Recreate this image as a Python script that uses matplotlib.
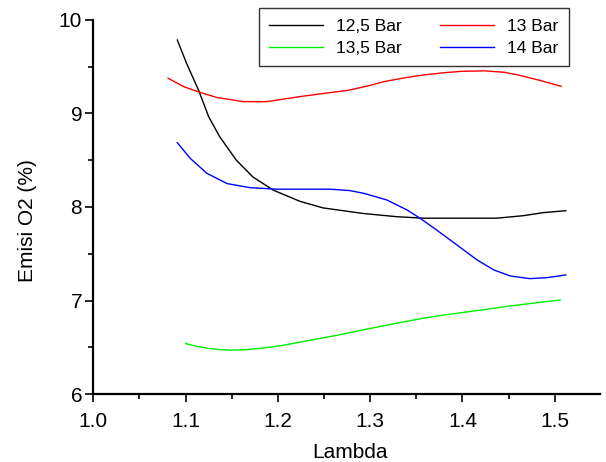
import matplotlib
matplotlib.use("Agg")
import matplotlib.pyplot as plt
from matplotlib.ticker import MultipleLocator

plt.rcParams['font.family'] = ['Liberation Sans', 'DejaVu Sans']

# nilai
lam_125 = [1.091, 1.101, 1.114, 1.125, 1.137, 1.155, 1.173, 1.195, 1.224, 1.249, 1.278,
           1.293, 1.329, 1.358, 1.401, 1.437, 1.466, 1.488, 1.512]
o2_125 = [9.785, 9.536, 9.25, 8.965, 8.75, 8.50, 8.32, 8.18, 8.06, 7.99, 7.95,
          7.93, 7.896, 7.88, 7.88, 7.88, 7.907, 7.94, 7.96]

lam_13 = [1.081, 1.098, 1.114, 1.134, 1.163, 1.188, 1.224, 1.255, 1.278, 1.300,
          1.315, 1.337, 1.357, 1.380, 1.399, 1.424, 1.445, 1.461, 1.485, 1.507]
o2_13 = [9.376, 9.286, 9.23, 9.17, 9.126, 9.126, 9.18, 9.22, 9.25, 9.30,
         9.34, 9.38, 9.41, 9.435, 9.45, 9.455, 9.44, 9.41, 9.35, 9.29]

lam_135 = [1.100, 1.112, 1.124, 1.137, 1.149, 1.165, 1.182, 1.205, 1.232, 1.265, 1.299,
           1.330, 1.357, 1.380, 1.399, 1.426, 1.450, 1.475, 1.506]
o2_135 = [6.54, 6.51, 6.49, 6.475, 6.47, 6.475, 6.49, 6.52, 6.57, 6.63, 6.70,
          6.76, 6.81, 6.845, 6.87, 6.906, 6.94, 6.97, 7.006]

lam_14 = [1.091, 1.105, 1.123, 1.145, 1.170, 1.199, 1.242, 1.257, 1.278, 1.293, 1.318,
          1.340, 1.354, 1.372, 1.394, 1.416, 1.434, 1.452, 1.473, 1.491, 1.512]
o2_14 = [8.687, 8.52, 8.36, 8.25, 8.206, 8.19, 8.19, 8.19, 8.175, 8.146, 8.075,
         7.968, 7.88, 7.754, 7.594, 7.433, 7.327, 7.262, 7.234, 7.244, 7.273]

labels = ['12,5 Bar', '13 Bar', '13,5 Bar', '14 Bar']
colors = ['black', 'red', '#00ee00', 'blue']

fig = plt.figure(figsize=(6.06, 4.62), dpi=100)
ax = fig.add_axes([0.154, 0.147, 0.836, 0.81])

series = [(lam_125, o2_125), (lam_13, o2_13), (lam_135, o2_135), (lam_14, o2_14)]
handles = []
for (x, y), lab, c in zip(series, labels, colors):
    h, = ax.plot(x, y, color=c, lw=1.0, label=lab)
    handles.append(h)

ax.set_xlim(1.0, 1.549)
ax.set_ylim(6, 10)
ax.xaxis.set_major_locator(MultipleLocator(0.1))
ax.xaxis.set_minor_locator(MultipleLocator(0.05))
ax.yaxis.set_major_locator(MultipleLocator(1))
ax.yaxis.set_minor_locator(MultipleLocator(0.5))
ax.xaxis.set_major_formatter(plt.FormatStrFormatter('%.1f'))

for s in ['top', 'right']:
    ax.spines[s].set_visible(False)
for s in ['left', 'bottom']:
    ax.spines[s].set_linewidth(1.6)
ax.tick_params(which='major', direction='out', length=6, width=1.2, labelsize=15)
ax.tick_params(axis='x', which='major', pad=7)
ax.tick_params(axis='y', which='major', pad=2)
ax.tick_params(which='minor', direction='out', length=3.5, width=1.2)

ax.set_xlabel('Lambda', fontsize=15, va='center')
ax.xaxis.set_label_coords(0.507, -0.155)
ax.set_ylabel('Emisi O2 (%)', fontsize=15, va='center')
ax.yaxis.set_label_coords(-0.129, 0.465)

# urutan per baris seperti di gambar
order = [0, 2, 1, 3]
leg = fig.legend([handles[i] for i in order], [labels[i] for i in order], ncol=2,
                 loc='upper left', bbox_to_anchor=(0.4274, 0.982), borderaxespad=0,
                 fontsize=12.5, frameon=True, fancybox=False, edgecolor='black',
                 handlelength=3.1, handletextpad=0.75, columnspacing=2.2, borderpad=0.6,
                 labelspacing=0.4)
leg.get_frame().set_linewidth(1.0)

fig.savefig('out.png', dpi=100)
